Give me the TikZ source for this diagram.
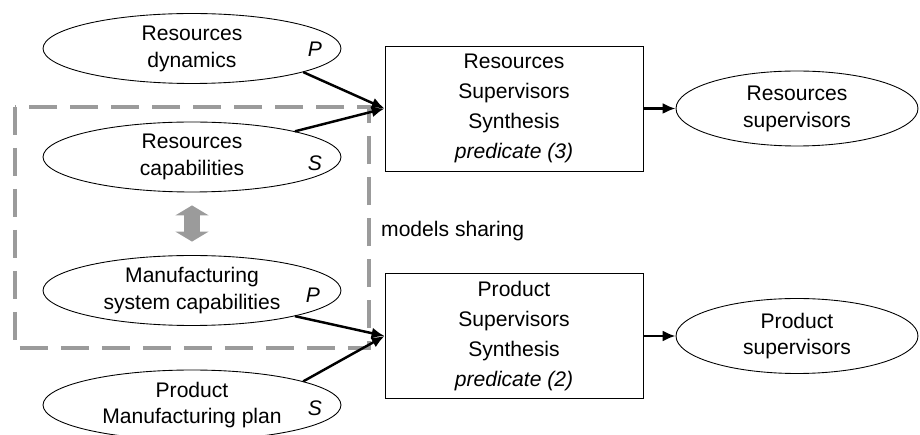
\documentclass[tikz,border=0pt]{standalone}
\usepackage{fontspec}
\setmainfont{Liberation Sans}
\usetikzlibrary{arrows.meta,shapes.geometric}
\definecolor{shared}{RGB}{155,155,155}

\begin{document}
\begin{tikzpicture}[x=0.02cm, y=-0.02cm,
    model/.style={draw, ellipse, line width=0.5pt, inner sep=0pt, minimum width=5.96cm, minimum height=1.4cm, align=center, font=\fontsize{12}{15.3}\selectfont},
    result/.style={model, minimum width=4.84cm, minimum height=1.5cm},
    synth/.style={draw, rectangle, line width=0.5pt, minimum width=5.16cm, minimum height=2.5cm, align=center, font=\fontsize{12}{17}\selectfont},
    kind/.style={font=\fontsize{12}{14}\selectfont\itshape},
    flow/.style={line width=1.4pt, -{Latex[length=2.6mm, width=2.2mm]}}]
    \useasboundingbox (0,0) rectangle (920,435);

    %% Models sharing frame (dashed)
    \draw[shared, line width=0.08cm, dash pattern=on 0.56cm off 0.26cm] (15,107) rectangle (369,348);
    \node[anchor=west, font=\fontsize{12}{14}\selectfont] (sharing) at (375,231) {models sharing};

    %% Input models
    \node[model] (resdyn) at (192,48.5) {Resources\\dynamics};
    \node[model] (rescap) at (192,157) {Resources\\capabilities};
    \node[model] (mancap) at (192,290.5) {Manufacturing\\system capabilities};
    \node[model] (plan) at (192,405) {Product\\Manufacturing plan};

    %% Plant / specification marks
    \node[kind] (resdyn p) at (315,49) {P};
    \node[kind] (rescap s) at (315,163) {S};
    \node[kind] (mancap p) at (313,295) {P};
    \node[kind] (plan s) at (315,408) {S};

    %% Synthesis steps
    \node[synth] (ressynth) at (514,108.5) {Resources\\Supervisors\\Synthesis\\\textit{predicate (3)}};
    \node[synth] (prodsynth) at (514,336) {Product\\Supervisors\\Synthesis\\\textit{predicate (2)}};

    %% Results
    \node[result] (ressup) at (797,108.5) {Resources\\supervisors};
    \node[result] (prodsup) at (797,336) {Product\\supervisors};

    %% Connectors
    \draw[flow] (resdyn.-12) -- (ressynth.west);
    \draw[flow] (rescap.14) -- (ressynth.west);
    \draw[flow] (mancap.-14) -- (prodsynth.west);
    \draw[flow] (plan.12) -- (prodsynth.west);
    \draw[flow] (ressynth) -- (ressup);
    \draw[flow] (prodsynth) -- (prodsup);

    %% Shared capabilities (double arrow)
    \draw[shared, line width=0.33cm, {Triangle[length=2mm, width=6.6mm]}-{Triangle[length=2mm, width=6.6mm]}]
        ([yshift=-0.26cm]rescap.south) -- ([yshift=0.27cm]mancap.north);

\end{tikzpicture}
\end{document}
